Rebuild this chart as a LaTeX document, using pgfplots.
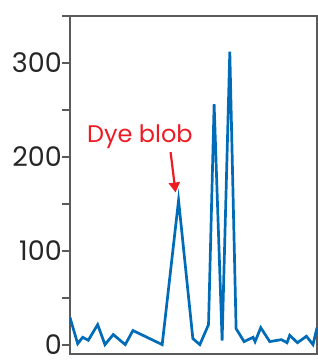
\documentclass[border=0pt]{standalone}
\usepackage{pgfplots}
\pgfplotsset{compat=1.18}
\usepackage{fontspec}
\setmainfont{Poppins}
\usetikzlibrary{arrows.meta}
\definecolor{lineblue}{RGB}{0,107,182}
\definecolor{annred}{RGB}{237,28,36}
\definecolor{framegray}{RGB}{90,90,90}
\begin{document}
\begin{tikzpicture}
\path[use as bounding box] (-70pt,-7pt) rectangle (248pt,354pt);
\begin{axis}[
  at={(0pt,0pt)}, anchor=south west,
  scale only axis, width=247pt, height=338pt,
  xmin=70, xmax=317.3, ymin=-10, ymax=350,
  axis line style={framegray, line width=2.2pt},
  xtick=\empty,
  ytick={0,50,100,150,200,250,300,350},
  yticklabels={0,,100,,200,,300,},
  tick align=outside, tick pos=left,
  major tick length=8pt,
  tick style={framegray, line width=2.2pt},
  yticklabel style={font=\fontsize{27}{30}\selectfont, text=black!85, inner sep=0pt, text depth=0pt, xshift=0pt},
  /pgf/number format/assume math mode=true,
  clip=true,
]
\addplot[lineblue, line width=2.7pt, line join=miter, miter limit=20] coordinates {
(70,28.8) (77.7,1) (82.7,7.8) (88.3,4.6) (97.7,21.3) (105,0) (113.3,10.7)
(125.3,0) (133,15) (162.3,0) (178.7,153.7) (193,6.4) (200,0) (208.7,21.3)
(214.3,256) (222.3,4.3) (230,312) (236.3,17) (244.3,3.2) (253.3,7.8)
(255.3,3.2) (261,18) (270,3.2) (281.7,5.3) (287.3,2) (290,10) (297.7,2)
(306.7,8.9) (313.3,0) (317.3,18)
};
\node[annred, font=\fontsize{24}{28}\selectfont, anchor=base] at (axis cs:140,215) {Dye blob};
\draw[annred, line width=2.2pt, -{Triangle[length=10pt,width=11pt]}] (axis cs:170.7,205) -- (axis cs:175.7,162);
\end{axis}
\end{tikzpicture}
\end{document}
